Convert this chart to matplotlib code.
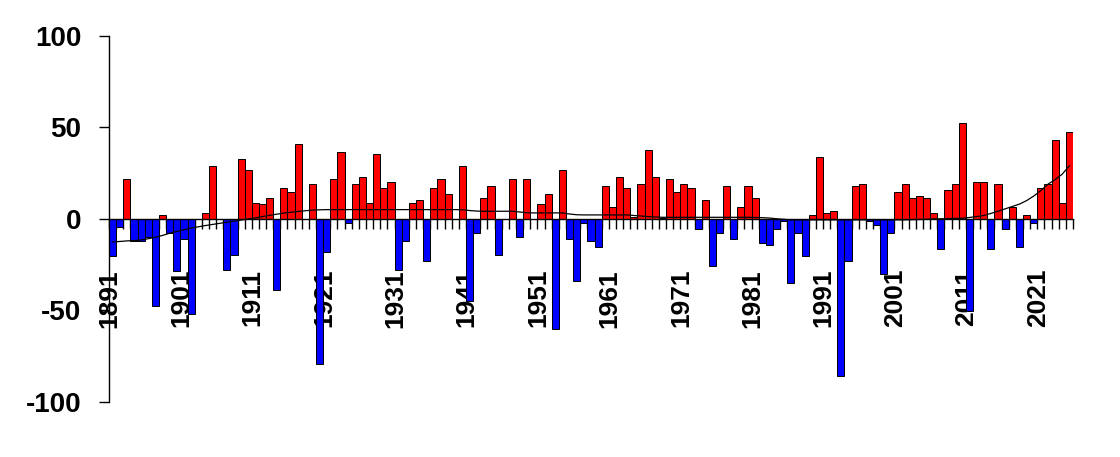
import numpy as np
import matplotlib
matplotlib.use("Agg")
from matplotlib import pyplot as plt
from matplotlib.ticker import FixedLocator, FixedFormatter

plt.rcParams['font.family'] = ['Liberation Sans', 'DejaVu Sans']

# Yearly values (1891-2025)
years = np.arange(1891, 2026)
values = [
    -20, -4.5, 21.7, -12, -12, -10, -47.7, 2.2, -7.5, -28.5,      # 1891-1900
    -11, -52, 0, 3.3, 29, 0, -28, -19.5, 32.8, 27,                # 1901-1910
    8.5, 8, 11.2, -38.6, 16.8, 14.6, 41, 0, 19, -79,              # 1911-1920
    -18, 21.7, 36.4, -2.4, 19, 22.8, 8.5, 35.3, 16.8, 20,         # 1921-1930
    -28, -12, 8.5, 10.4, -22.8, 16.8, 21.7, 13.5, 0, 29,          # 1931-1940
    -45, -7.8, 11.3, 17.8, -19.5, 0, 21.7, -10, 21.7, 0,          # 1941-1950
    8, 13.5, -60, 27, -11, -34, -2.2, -12.2, -15.5, 17.8,         # 1951-1960
    6.4, 22.8, 16.8, 1, 19, 37.5, 22.8, 0.5, 21.7, 14.6,          # 1961-1970
    19, 16.8, -5.6, 10.4, -25.9, -7.8, 17.8, -11, 6.4, 17.8,      # 1971-1980
    11.3, -13, -14.3, -5.6, -1.2, -35, -7.7, -20.4, 2.1, 33.7,    # 1981-1990
    3.1, 4.3, -86, -22.8, 17.8, 19, -1.2, -3.5, -30, -7.8,        # 1991-2000
    14.6, 19, 11.3, 12.4, 11.3, 3.1, -16.6, 15.7, 19, 52.3,       # 2001-2010
    -50.5, 20, 20, -16.6, 19, -5.6, 6.4, -15.5, 2.1, -2.4,        # 2011-2020
    16.8, 19, 43, 8.5, 47.4,                                      # 2021-2025
]

# Smoothed curve
trend = [
    -12.6, -12.3, -12.0, -11.8, -11.5, -10.8, -10.0, -9.0, -7.8, -6.8,
    -5.9, -5.0, -4.3, -3.6, -3.0, -2.4, -1.8, -1.2, -0.6, 0.0,
    0.6, 1.3, 2.0, 2.6, 3.2, 3.7, 4.1, 4.5, 4.8, 5.0,
    5.1, 5.1, 5.1, 5.1, 5.1, 5.1, 5.1, 5.1, 5.1, 5.1,
    5.1, 5.1, 5.1, 5.1, 5.1, 5.1, 5.1, 5.1, 5.1, 5.0,
    4.6, 4.3, 4.2, 4.2, 4.2, 4.2, 4.2, 3.8, 3.4, 3.3,
    3.3, 3.3, 3.3, 3.3, 2.7, 2.3, 2.2, 2.2, 2.2, 2.2,
    2.2, 2.2, 2.2, 1.9, 1.6, 1.3, 1.1, 0.9, 0.9, 0.9,
    0.9, 0.9, 0.9, 0.9, 0.9, 0.9, 0.9, 0.9, 0.9, 0.9,
    0.8, 0.7, 0.5, 0.1, -0.2, -0.5, -0.5, -0.5, -0.5, -0.5,
    -0.5, -0.5, -0.5, -0.5, -0.5, -0.5, -0.5, -0.5, -0.5, -0.5,
    -0.5, -0.5, -0.4, -0.3, -0.2, 0.0, 0.1, 0.2, 0.3, 0.4,
    0.8, 1.3, 1.9, 3.0, 4.2, 5.5, 6.8, 8.1, 10.0, 12.5,
    15.5, 19.0, 21.5, 24.5, 29.0,
]

label_years = list(range(1891, 2026, 10))
y_ticks = [-100, -50, 0, 50, 100]

fig = plt.figure(figsize=(11.2, 4.57), dpi=100)
ax = fig.add_axes([0.0973, 0.1204, 0.8607, 0.801])

vals = np.array(values)
colors = np.where(vals >= 0, "#FF0000", "#0000FF")
ax.bar(years, vals, width=1.0, color=colors, edgecolor="black", linewidth=0.7, zorder=2)
ax.plot(years, trend, color="black", linewidth=0.9, zorder=3)

ax.set_xlim(1890.5, 2025.5)
ax.set_ylim(-100, 100)

# spines: left axis + zero line as category axis
ax.spines['top'].set_visible(False)
ax.spines['right'].set_visible(False)
ax.spines['bottom'].set_position(('data', 0))
ax.spines['bottom'].set_zorder(4)
ax.spines['left'].set_linewidth(1.0)
ax.spines['bottom'].set_linewidth(1.0)

ax.set_yticks(y_ticks)
ax.set_yticklabels([str(v) for v in y_ticks])
ax.tick_params(axis='y', direction='out', length=7, width=1, pad=13,
               labelsize=20)
for lab in ax.get_yticklabels():
    lab.set_fontweight('bold')

# x: ticks at every category boundary, labels every ten years
ax.xaxis.set_minor_locator(FixedLocator(np.arange(1890.5, 2026, 1.0)))
ax.xaxis.set_major_locator(FixedLocator([y - 0.4 for y in label_years]))
ax.xaxis.set_major_formatter(FixedFormatter([str(y) for y in label_years]))
ax.tick_params(axis='x', which='minor', direction='out', length=7, width=1)
ax.tick_params(axis='x', which='major', direction='out', length=0, pad=36,
               labelsize=19, labelrotation=90)
for lab in ax.get_xticklabels():
    lab.set_fontweight('bold')

fig.savefig("out.png", dpi=100)
